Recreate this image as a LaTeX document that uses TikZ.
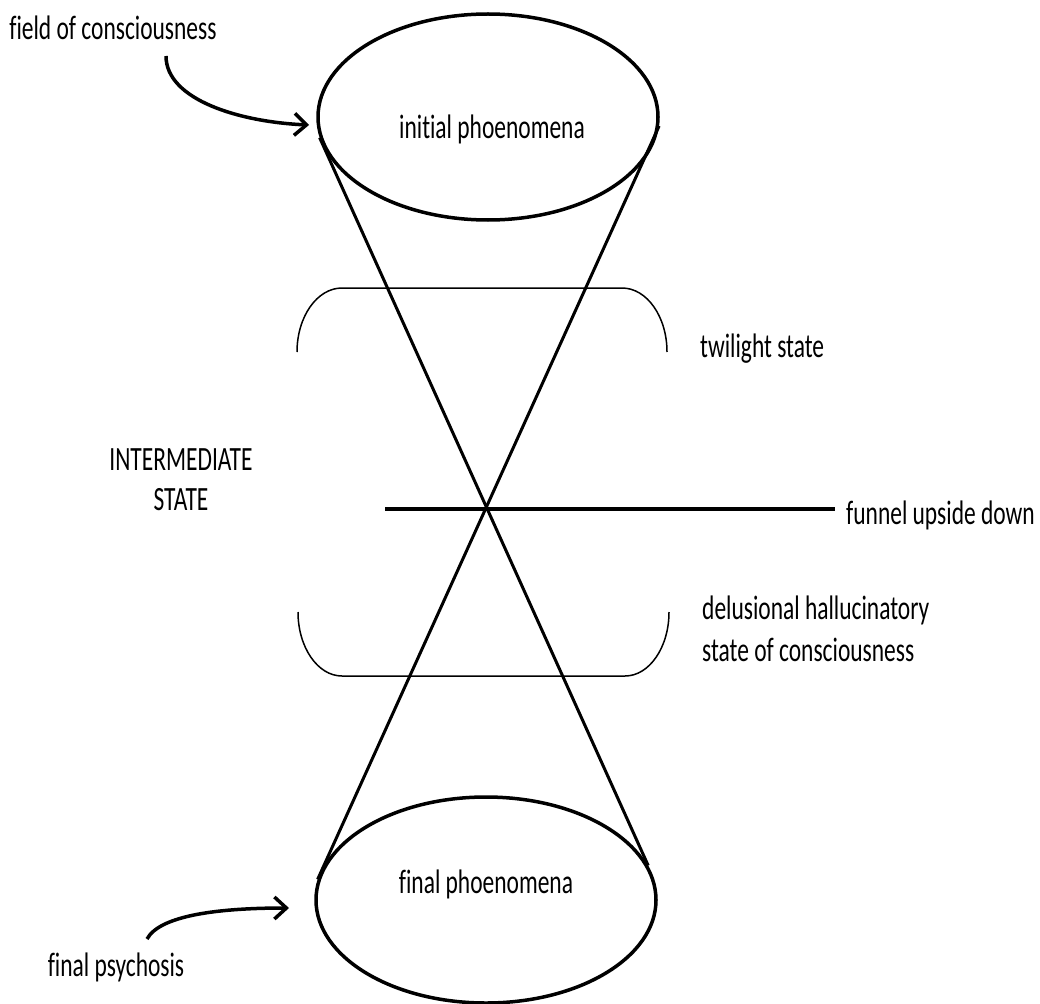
\documentclass[tikz,border=0pt]{standalone}
\usepackage{fontspec}
\setmainfont{Carlito}[FakeStretch=0.69, Ligatures=CommonOff]
\usetikzlibrary{shapes.geometric, arrows.meta, positioning}
\tikzstyle{bubble} = [ellipse, draw=black, line width=3.5pt, minimum width=340pt, minimum height=206pt, inner sep=0pt]
\tikzstyle{caption} = [inner sep=0pt, font=\fontsize{34pt}{40pt}\selectfont, text=black]
\tikzstyle{funnel} = [line width=3pt]
\tikzstyle{bar} = [line width=4pt]
\tikzstyle{bracket} = [line width=1.5pt]
\tikzstyle{arrow} = [line width=3.5pt, -{Straight Barb[length=12pt, width=22pt]}]

\begin{document}
\begin{tikzpicture}[x=1pt, y=-1pt]
\useasboundingbox (0,0) rectangle (1040,1003);

\node (top) [bubble] at (488,117) {};
\node (bottom) [bubble] at (486,900) {};
\node (initial) [caption] at (492,129) {initial phoenomena};
\node (final) [caption] at (486,884) {final phoenomena};

% funnel
\draw [funnel] (top.187) -- (bottom.12);
\draw [funnel] (top.357) -- (bottom.173);

% brackets
\draw [bracket] (297,352) .. controls (297,316.7) and (317.1,288) .. (342,288) -- (622,288) .. controls (646.9,288) and (667,316.7) .. (667,352);
\draw [bracket] (298,612) .. controls (298,647.3) and (317.7,676) .. (342,676) -- (625,676) .. controls (649.3,676) and (669,647.3) .. (669,612);

% cross bar
\coordinate (hstart) at (385,509);
\coordinate (hend) at (835,509);
\draw [bar] (hstart) -- (hend);
\node (funnellbl) [caption, right=11pt of hend, yshift=-6pt] {funnel upside down};

\node (twilight) [caption, anchor=west] at (700,349) {twilight state};
\node (delusional) [caption, anchor=west, align=left, font=\fontsize{34pt}{42pt}\selectfont] at (702,629) {delusional hallucinatory\\state of consciousness};
\node (intermediate) [caption, align=center] at (181,480) {INTERMEDIATE\\STATE};
\node (field) [caption] at (113,28) {field of consciousness};
\node (psychosis) [caption] at (116,967) {final psychosis};

% arrows
\coordinate (fieldtail) at (166,56);
\coordinate (fieldtip) at (309,125);
\draw [arrow] (fieldtail) .. controls (166,100) and (240,122) .. (fieldtip);
\coordinate (psytail) at (147,939);
\coordinate (psytip) at (289,908);
\draw [arrow] (psytail) .. controls (160,915) and (220,908) .. (psytip);

\end{tikzpicture}
\end{document}
